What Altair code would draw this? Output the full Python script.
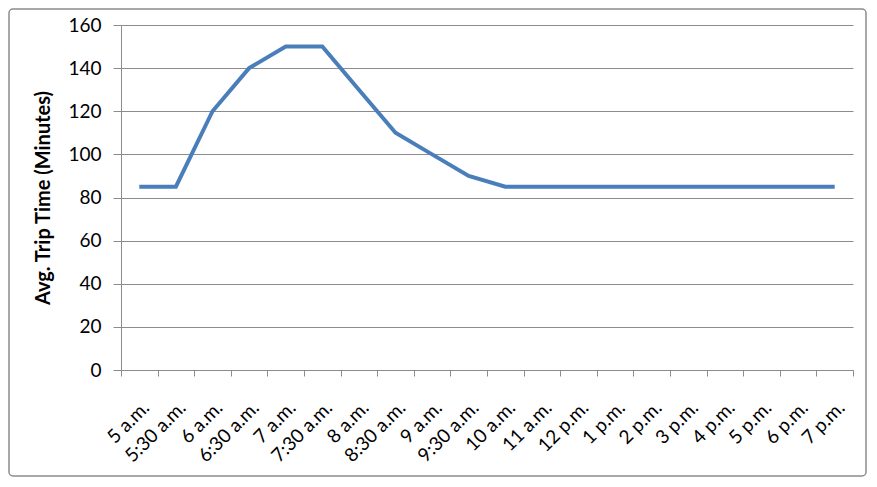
import altair as alt
import pandas as pd

times = ["5 a.m.", "5:30 a.m.", "6 a.m.", "6:30 a.m.", "7 a.m.", "7:30 a.m.", "8 a.m.",
         "8:30 a.m.", "9 a.m.", "9:30 a.m.", "10 a.m.", "11 a.m.", "12 p.m.", "1 p.m.",
         "2 p.m.", "3 p.m.", "4 p.m.", "5 p.m.", "6 p.m.", "7 p.m."]
trip_minutes = [85, 85, 120, 140, 150, 150, 130, 110, 100, 90, 85, 85, 85, 85,
                85, 85, 85, 85, 85, 85]
y_ticks = [0, 20, 40, 60, 80, 100, 120, 140, 160]

df = pd.DataFrame({"time": times, "minutes": trip_minutes})

W, H = 732, 345
PAD_L, PAD_T, PAD_R, PAD_B = 113, 17, 14, 107

grid = "#8c8c8c"

x_enc = alt.X("time:N", sort=times, bandPosition=0.5,
              scale=alt.Scale(type="band", paddingInner=0, paddingOuter=0),
              axis=alt.Axis(title=None, labelAngle=-45, labelAlign="right",
                            labelBaseline="top", labelFont="Lato", labelFontSize=19,
                            labelColor="#000000", tickBand="extent", tickSize=6,
                            tickColor=grid, domainColor=grid, labelPadding=22,
                            grid=False))

y_enc = alt.Y("minutes:Q",
              scale=alt.Scale(domain=[0, 160], nice=False),
              axis=alt.Axis(title="Avg. Trip Time (Minutes)", values=y_ticks,
                            titleFont="Lato", titleFontSize=20, titleFontWeight="bold",
                            titleColor="#000000", titlePadding=14,
                            labelFont="Lato", labelFontSize=19, labelColor="#000000",
                            tickSize=8, tickColor=grid, domainColor=grid,
                            gridColor=grid, gridWidth=1, labelPadding=12))

line = alt.Chart(df).mark_line(color="#4a7ebb", strokeWidth=4).encode(x=x_enc, y=y_enc)

border = alt.Chart(pd.DataFrame({"a": [0]})).mark_rect(
    fill=None, stroke="#8c8c8c", strokeWidth=1.5, cornerRadius=4
).encode(
    x=alt.value(-PAD_L + 1), x2=alt.value(W + PAD_R - 1),
    y=alt.value(-PAD_T + 1), y2=alt.value(H + PAD_B - 1),
)

chart = alt.layer(border, line).properties(
    width=W, height=H,
    autosize=alt.AutoSizeParams(type="none"),
    padding={"left": PAD_L, "top": PAD_T, "right": PAD_R, "bottom": PAD_B},
).configure_view(stroke=None)

chart.save("out.html", embed_options={"renderer": "svg", "actions": False})
